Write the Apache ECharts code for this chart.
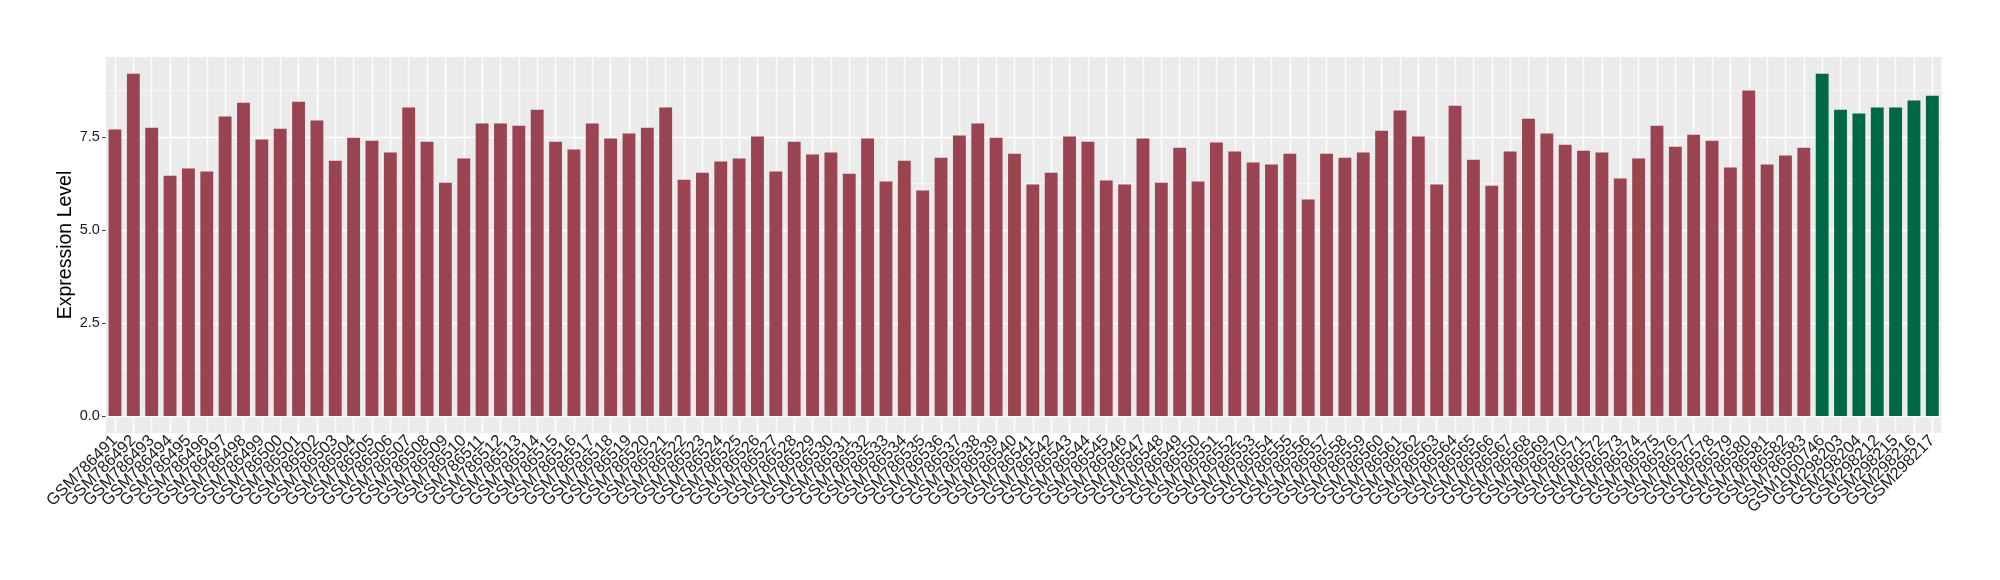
<!DOCTYPE html>
<html>
<head>
<meta charset="utf-8">
<script src="https://cdn.jsdelivr.net/npm/echarts@6/dist/echarts.min.js"></script>
<style>
html,body{margin:0;padding:0;background:#fff;}
#c{width:2000px;height:580px;}
</style>
</head>
<body>
<div id="c"></div>
<script>
// ---- data ----
const groupACategories = [];
for (let n = 786491; n <= 786583; n++) groupACategories.push('GSM' + n);
const groupAValues = [
  7.70, 9.20, 7.75, 6.46, 6.65, 6.57, 8.05, 8.42, 7.43, 7.72,
  8.45, 7.94, 6.86, 7.48, 7.40, 7.08, 8.29, 7.37, 6.27, 6.92,
  7.86, 7.86, 7.80, 8.23, 7.37, 7.16, 7.86, 7.46, 7.59, 7.75,
  8.29, 6.35, 6.54, 6.84, 6.92, 7.51, 6.57, 7.37, 7.03, 7.08,
  6.51, 7.46, 6.30, 6.86, 6.06, 6.94, 7.54, 7.86, 7.48, 7.05,
  6.22, 6.54, 7.51, 7.37, 6.33, 6.22, 7.46, 6.27, 7.21, 6.30,
  7.35, 7.11, 6.81, 6.76, 7.05, 5.82, 7.05, 6.94, 7.08, 7.67,
  8.21, 7.51, 6.22, 8.34, 6.89, 6.19, 7.11, 7.99, 7.59, 7.29,
  7.13, 7.08, 6.38, 6.92, 7.80, 7.24, 7.56, 7.40, 6.68, 8.75,
  6.76, 7.00, 7.21
];
const groupBCategories = ['GSM1060746', 'GSM298203', 'GSM298204', 'GSM298212', 'GSM298215', 'GSM298216', 'GSM298217'];
const groupBValues = [9.20, 8.23, 8.13, 8.29, 8.29, 8.48, 8.61];
const yTickValues = [0, 2.5, 5, 7.5];
const yMinorValues = [1.25, 3.75, 6.25, 8.75];
const yTitle = 'Expression Level';

// ---- build ----
const colorA = '#9A4351';
const colorB = '#006845';
const categories = groupACategories.concat(groupBCategories);
const barData = groupAValues.map(v => ({value: v, itemStyle: {color: colorA}}))
  .concat(groupBValues.map(v => ({value: v, itemStyle: {color: colorB}})));

const gridLines = [];
yTickValues.forEach(v => gridLines.push({yAxis: v, lineStyle: {color: '#FFFFFF', width: 1.4, type: 'solid'}}));
yMinorValues.forEach(v => gridLines.push({yAxis: v, lineStyle: {color: '#FAFAFA', width: 0.7, type: 'solid'}}));
categories.forEach(c => gridLines.push({xAxis: c, lineStyle: {color: '#FFFFFF', width: 1.4, type: 'solid'}}));

const chart = echarts.init(document.getElementById('c'), null, {renderer: 'canvas'});
chart.setOption({
  animation: false,
  backgroundColor: '#FFFFFF',
  grid: {
    left: 105.8, right: 58.5, top: 57, bottom: 147,
    show: true, backgroundColor: '#EBEBEB', borderWidth: 0
  },
  xAxis: {
    type: 'category',
    data: categories,
    boundaryGap: true,
    axisLine: {show: false},
    axisTick: {show: true, alignWithLabel: true, length: 3.7, lineStyle: {color: '#333333', width: 1}},
    axisLabel: {
      interval: 0, rotate: 45, margin: 5,
      fontFamily: 'Liberation Sans, Arial, sans-serif', fontSize: 16.5, color: '#1A1A1A'
    },
    splitLine: {show: false}
  },
  yAxis: {
    type: 'value',
    min: -0.46, max: 9.65,
    name: yTitle,
    nameLocation: 'middle',
    nameGap: 30,
    nameMoveOverlap: false,
    nameRotate: 90,
    nameTextStyle: {fontFamily: 'Liberation Sans, Arial, sans-serif', fontSize: 19.5, color: '#000000'},
    axisLine: {show: false},
    axisTick: {show: true, length: 3.7, customValues: yTickValues, lineStyle: {color: '#333333', width: 1}},
    axisLabel: {
      margin: 6, customValues: yTickValues,
      formatter: v => Number(v).toFixed(1),
      fontFamily: 'Liberation Sans, Arial, sans-serif', fontSize: 14.5, color: '#1A1A1A'
    },
    splitLine: {show: false},
    minorSplitLine: {show: false}
  },
  series: [
    {
      type: 'line',
      data: categories.map(() => '-'),
      showSymbol: false,
      silent: true,
      z: 1,
      lineStyle: {opacity: 0},
      markLine: {
        silent: true,
        symbol: ['none', 'none'],
        label: {show: false},
        animation: false,
        data: gridLines
      }
    },
    {
      type: 'bar',
      data: barData,
      barWidth: '70%',
      z: 5
    }
  ]
});
</script>
</body>
</html>
